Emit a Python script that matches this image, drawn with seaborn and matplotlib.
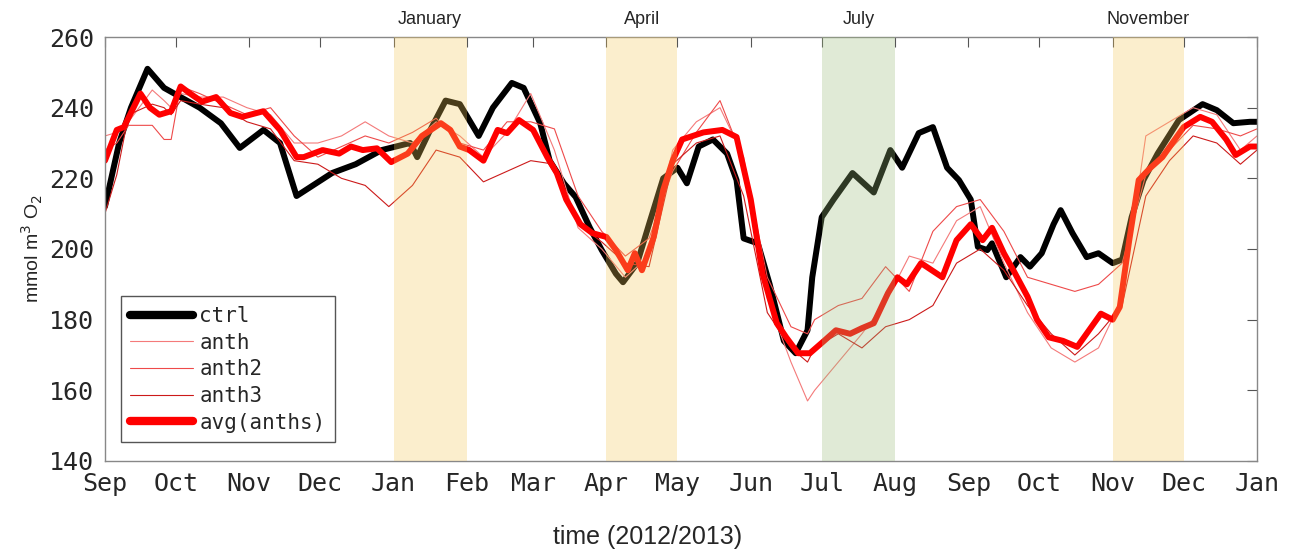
import matplotlib
matplotlib.use("Agg")
import matplotlib.pyplot as plt
import matplotlib.dates as mdates
import numpy as np
import pandas as pd
import seaborn as sns

START = pd.Timestamp("2012-09-01")

# ctrl run (days since 1 Sep 2012, mmol m3 O2)
ctrl_days = [0, 6, 11, 18, 25, 40, 49, 57, 67, 74, 81, 96, 106, 117, 129, 132, 137, 144,
             150, 158, 164, 172, 177, 184, 188, 194, 199, 205, 210, 216, 219, 225, 230,
             236, 242, 246, 251, 257, 263, 267, 270, 276, 281, 287, 292, 297, 299, 303,
             308, 316, 325, 332, 337, 344, 350, 356, 361, 366, 369, 373, 375, 381, 387,
             391, 396, 401, 404, 409, 415, 420, 426, 430, 434, 439, 445, 454, 464, 470,
             477, 484, 487]
ctrl_vals = [212, 230, 240, 251, 245.6, 240, 235.6, 228.6, 233.7, 230, 215, 221.5, 224,
             228, 230, 226, 233, 242, 241, 232, 240, 247, 245.6, 235.6, 225, 218.6, 214.7,
             206, 199.7, 193, 190.6, 196, 207, 220, 223, 218.6, 229, 231, 227, 219.5, 203,
             201.6, 190, 174, 170.5, 177, 192, 209, 214, 221.5, 216, 228, 223, 232.8, 234.5,
             223, 219.5, 214, 200.6, 199.7, 201.6, 192, 197.7, 195, 198.8, 207, 211, 204.5,
             197.7, 198.8, 196, 197, 209, 219.5, 227, 236.5, 241, 239.3, 235.6, 236, 236]

# ensemble mean of the anth runs
avg_days = [0, 5, 8, 15, 19, 23, 28, 32, 36, 41, 47, 53, 58, 67, 74, 81, 84, 92, 99, 104,
            109, 115, 121, 128, 134, 142, 146, 150, 154, 160, 166, 170, 175, 181, 187, 191,
            195, 201, 206, 212, 216, 221, 224, 227, 232, 236, 240, 244, 253, 261, 267, 273,
            278, 284, 288, 293, 298, 304, 309, 315, 320, 325, 331, 335, 339, 345, 354, 360,
            366, 371, 375, 380, 384, 390, 394, 399, 405, 411, 416, 421, 426, 429, 433, 437,
            442, 447, 456, 463, 468, 474, 478, 484, 487]
avg_vals = [225, 233.7, 234.5, 244, 240, 238, 239, 246, 244, 241.7, 243, 238.5, 237.4, 239,
            233.7, 226, 226, 228, 227, 229, 228, 228.5, 224.6, 227, 232, 235.6, 233.7, 229,
            228, 225, 233.7, 232.8, 236.5, 233.7, 226, 221.5, 214, 207, 204.5, 203.4, 199.7,
            194, 198.8, 194, 203.4, 216.7, 225, 231, 233, 233.7, 231.7, 214, 193, 179, 175,
            170.5, 170.5, 174, 177, 176, 177.6, 179, 187.5, 192, 190, 196, 192, 202.5, 207,
            202.5, 206, 198.8, 194, 186.5, 180, 175, 174, 172.3, 177, 181.7, 180, 183.6,
            202.5, 219.5, 223, 226, 234.5, 237.4, 236, 231, 226.6, 229, 229]

# individual anth members, sampled roughly every 10 days
mem_days = [0, 5, 10, 20, 25, 28, 32, 40, 50, 60, 70, 80, 90, 100, 110, 120, 130, 140, 150,
            160, 170, 180, 190, 200, 210, 220, 230, 240, 250, 260, 270, 280, 290, 297, 300,
            310, 320, 330, 340, 350, 360, 370, 380, 390, 400, 410, 420, 430, 440, 450, 460,
            470, 480, 487]
anth_vals = [232, 233, 236, 245, 242, 240, 244, 243, 243, 240, 238, 230, 230, 232, 236,
             232, 230, 236, 232, 226, 233, 244, 228, 206, 200, 192, 198, 228, 236, 240, 226,
             186, 168, 157, 160, 168, 176, 185, 198, 196, 208, 212, 196, 182, 172, 168, 172,
             186, 232, 236, 240, 238, 228, 232]
anth2_vals = [228, 230, 235, 235, 231, 231, 246, 244, 241, 238, 240, 232, 226, 229, 232,
              230, 233, 237, 230, 228, 236, 236, 234, 215, 205, 198, 203, 222, 233, 242,
              225, 192, 178, 176, 180, 184, 186, 195, 188, 205, 212, 214, 205, 192, 190,
              188, 190, 196, 221, 228, 235, 234, 232, 234]
anth3_vals = [210, 221, 238, 241, 240, 238, 242, 241, 240, 236, 234, 225, 224, 220, 218,
              212, 218, 228, 226, 219, 222, 225, 224, 207, 202, 196, 195, 224, 230, 232,
              215, 182, 172, 168, 172, 176, 172, 178, 180, 184, 196, 200, 194, 184, 176,
              170, 176, 184, 215, 225, 232, 230, 224, 228]

# highlighted months: (label, start, end, colour)
spans = [("January", "2013-01-01", "2013-02-01", "#f5c95a"),
         ("April", "2013-04-01", "2013-05-01", "#f5c95a"),
         ("July", "2013-07-01", "2013-08-01", "#9bbc7a"),
         ("November", "2013-11-01", "2013-12-01", "#f5c95a")]

month_ticks = pd.date_range("2012-09-01", "2014-01-01", freq="MS")


def to_dates(days):
    return START + pd.to_timedelta(np.array(days, dtype=float), unit="D")


sns.set_style("white")
plt.rcParams["font.family"] = ["Liberation Sans", "DejaVu Sans"]

fig = plt.figure(figsize=(12.94, 5.49), dpi=100)
ax = fig.add_axes([0.0811, 0.1603, 0.8903, 0.7723])

mono = "DejaVu Sans Mono"
series = [
    ("ctrl", ctrl_days, ctrl_vals, "black", 4.3),
    ("anth", mem_days, anth_vals, "#f47a7a", 0.8),
    ("anth2", mem_days, anth2_vals, "#ee4a4a", 0.8),
    ("anth3", mem_days, anth3_vals, "#cc1a1a", 0.8),
    ("avg(anths)", avg_days, avg_vals, "#ff0000", 4.3),
]
for name, d, v, col, lw in series:
    sns.lineplot(x=to_dates(d), y=v, ax=ax, color=col, linewidth=lw, label=name,
                 zorder=2, sort=False)

for lab, s, e, col in spans:
    s, e = pd.Timestamp(s), pd.Timestamp(e)
    ax.axvspan(s, e, color=col, alpha=0.3, lw=0, zorder=3)
    ax.text(s + (e - s) / 2, 1.022, lab, transform=ax.get_xaxis_transform(),
            ha="center", va="bottom", fontsize=13)

ax.set_xlim(month_ticks[0], month_ticks[-1])
ax.set_ylim(140, 260)
ax.set_yticks(np.arange(140, 261, 20))
ax.set_xticks(month_ticks)
ax.xaxis.set_major_formatter(mdates.DateFormatter("%b"))
ax.tick_params(direction="in", length=7, width=0.8, color="#555555",
               top=True, right=True, labelsize=18, pad=8)
for lbl in ax.get_xticklabels() + ax.get_yticklabels():
    lbl.set_fontfamily(mono)
for sp in ax.spines.values():
    sp.set_color("#888888")
    sp.set_linewidth(1.0)

ax.set_xlabel("time (2012/2013)", fontsize=18)
ax.xaxis.set_label_coords(0.471, -0.152)
ax.set_ylabel("mmol m$^3$ O$_2$", fontsize=14)
ax.yaxis.set_label_coords(-0.052, 0.5)

leg = ax.legend(loc="lower left", bbox_to_anchor=(0.014, 0.045), borderaxespad=0,
                prop={"family": mono, "size": 15},
                handlelength=3.0, handletextpad=0.3, labelspacing=0.32, borderpad=0.45,
                frameon=True, fancybox=False, edgecolor="#555555", framealpha=1)
leg.set_zorder(5)
leg.get_frame().set_linewidth(1.0)
for h in leg.get_lines():
    if h.get_linewidth() > 2:
        h.set_linewidth(6)

fig.savefig("out.png", dpi=100)
